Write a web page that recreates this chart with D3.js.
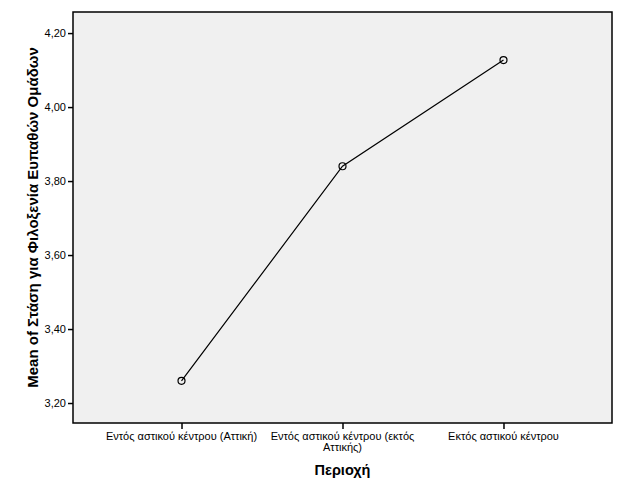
<!DOCTYPE html>
<html>
<head>
<meta charset="utf-8">
<script src="https://cdn.jsdelivr.net/npm/d3@7"></script>
<style>
  body { margin: 0; background: #fff; }
  svg text { font-family: Arial, "Liberation Sans", sans-serif; fill: #000; }
</style>
</head>
<body>
<div id="chart"></div>
<script>

// data
var categories = ["Εντός αστικού κέντρου (Αττική)", "Εντός αστικού κέντρου (εκτός Αττικής)", "Εκτός αστικού κέντρου"];
var means = [3.26, 3.84, 4.127];
var yTicks = [3.20, 3.40, 3.60, 3.80, 4.00, 4.20];
var xTitle = "Περιοχή";
var yTitle = "Mean of Στάση για Φιλοξενία Ευπαθών Ομάδων";

var width = 627, height = 502;
var margin = {top: 12, bottom: 79, left: 73, right: 15};

var svg = d3.select('#chart').append('svg')
  .attr('width', width)
  .attr('height', height);

var xscale = d3.scalePoint()
  .domain(categories)
  .range([margin.left, width - margin.right])
  .padding(0.674);

var yscale = d3.scaleLinear()
  .domain([3.146, 4.257])
  .range([height - margin.bottom, margin.top]);

// plot background
svg.append('rect')
  .attr('x', margin.left).attr('y', margin.top)
  .attr('width', width - margin.right - margin.left)
  .attr('height', height - margin.bottom - margin.top)
  .attr('fill', '#f0f0f0')
  .attr('stroke', '#000')
  .attr('stroke-width', 1.5);

// y axis
var yaxis = d3.axisLeft(yscale).tickValues(yTicks).tickSize(5).tickPadding(2)
  .tickFormat(function(d) { return d3.format('.2f')(d).replace('.', ','); });
var gy = svg.append('g').attr('transform', 'translate(' + margin.left + ',0)').call(yaxis);
gy.select('.domain').remove();
gy.selectAll('line').attr('stroke', '#000').attr('stroke-width', 1.5);
gy.selectAll('text').attr('font-size', '11px').attr('font-family', 'Arial, "Liberation Sans", sans-serif');

// x axis
var xaxis = d3.axisBottom(xscale).tickSize(6).tickFormat('');
var gx = svg.append('g').attr('transform', 'translate(0,' + (height - margin.bottom) + ')').call(xaxis);
gx.select('.domain').remove();
gx.selectAll('line').attr('stroke', '#000').attr('stroke-width', 1.5);

// category labels, wrapped to the step width (one text per line)
var measure = svg.append('text').attr('font-size', '11px');
categories.forEach(function(c) {
  var words = c.split(' ');
  var lines = [];
  var cur = [];
  words.forEach(function(w) {
    cur.push(w);
    measure.text(cur.join(' '));
    if (measure.node().getComputedTextLength() > xscale.step() - 2 && cur.length > 1) {
      cur.pop();
      lines.push(cur.join(' '));
      cur = [w];
    }
  });
  lines.push(cur.join(' '));
  lines.forEach(function(l, i) {
    svg.append('text')
      .attr('x', xscale(c))
      .attr('y', 440 + i * 11)
      .attr('text-anchor', 'middle')
      .attr('font-size', '11px')
      .text(l);
  });
});
measure.remove();

// line + markers
var line = d3.line()
  .x(function(d, i) { return xscale(categories[i]); })
  .y(function(d) { return yscale(d); });

svg.append('path').datum(means)
  .attr('fill', 'none').attr('stroke', '#000').attr('stroke-width', 1.2)
  .attr('d', line);

svg.selectAll('circle.pt').data(means).enter().append('circle')
  .attr('class', 'pt')
  .attr('cx', function(d, i) { return xscale(categories[i]); })
  .attr('cy', function(d) { return yscale(d); })
  .attr('r', 3.5)
  .attr('fill', 'none')
  .attr('stroke', '#000')
  .attr('stroke-width', 1.2);

// titles
svg.append('text')
  .attr('x', (margin.left + width - margin.right) / 2)
  .attr('y', 475)
  .attr('text-anchor', 'middle')
  .attr('font-size', '14.5px').attr('font-weight', 'bold')
  .text(xTitle);

svg.append('text')
  .attr('transform', 'translate(38,' + ((margin.top + height - margin.bottom) / 2) + ') rotate(-90)')
  .attr('text-anchor', 'middle')
  .attr('font-size', '15px').attr('font-weight', 'bold')
  .text(yTitle);

</script>
</body>
</html>
